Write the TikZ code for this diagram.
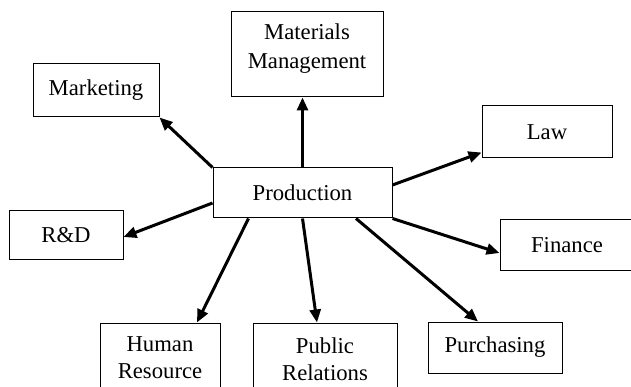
\documentclass[tikz,border=0pt]{standalone}
\usepackage{fontspec}
\setmainfont{Liberation Serif}
\usetikzlibrary{arrows.meta}
\begin{document}
\begin{tikzpicture}[x=1pt,y=-1pt,
  box/.style={draw=black,line width=1pt,inner sep=0pt,font=\fontsize{22.7}{27}\selectfont,align=center},
  lbl/.style={inner sep=0pt,font=\fontsize{22.7}{27}\selectfont,align=center},
  arr/.style={line width=3pt,-{Triangle[length=13pt,width=11pt]}}]
\useasboundingbox (0,0) rectangle (631,387);
\clip (0,0) rectangle (631,387);
\fill[white] (0,0) rectangle (631,387);
% boxes
\node[box,minimum width=126pt,minimum height=53pt] (mkt) at (96,90.5) {Marketing};
\node[box,minimum width=152pt,minimum height=85pt] (mat) at (307,54.5) {};
\node[lbl,font=\fontsize{22.7}{29}\selectfont] (matt) at (307,49) {Materials\\Management};
\node[box,minimum width=130pt,minimum height=52pt] (law) at (547,132) {Law};
\node[box,minimum width=179pt,minimum height=50pt] (prod) at (302.5,193) {Production};
\node[box,minimum width=114pt,minimum height=48pt] (rd) at (66,235) {R\&D};
\node[box,minimum width=134pt,minimum height=50pt] (fin) at (567,245) {Finance};
\node[box,minimum width=134pt,minimum height=51pt] (pur) at (495,347.5) {Purchasing};
\node[box,minimum width=120pt,minimum height=80pt] (hr) at (160,363) {};
\node[lbl] (hrt) at (160,358) {Human\\Resource};
\node[box,minimum width=144pt,minimum height=80pt] (pr) at (325,363) {};
\node[lbl] (prt) at (325,359) {Public\\Relations};
% arrows
\draw[arr] (prod.north west) -- (mkt.south east);
\draw[arr] (prod.north) -- (prod.north |- mat.south);
\draw[arr] ([yshift=8pt]prod.east) -- ([yshift=6pt]law.south west);
\draw[arr] ([yshift=-10pt]prod.west) -- ([yshift=-2pt]rd.east);
\draw[arr] ([xshift=-54pt]prod.south) -- ([xshift=37pt]hr.north);
\draw[arr] (prod.south) -- ([xshift=-8pt]pr.north);
\draw[arr] ([xshift=53.5pt]prod.south) -- ([xshift=-17pt]pur.north);
\draw[arr] (prod.south east) -- ([yshift=-8pt]fin.west);
\end{tikzpicture}
\end{document}
